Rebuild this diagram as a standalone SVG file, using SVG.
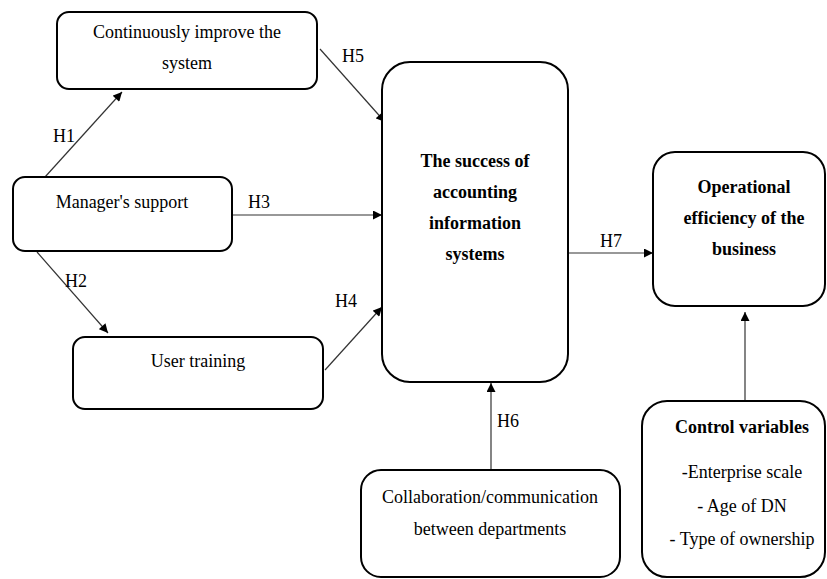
<svg xmlns="http://www.w3.org/2000/svg" width="827" height="579" viewBox="0 0 827 579">
<style>
.box{fill:#fff;stroke:#000;stroke-width:2}
.t{font-family:"Liberation Serif","Times New Roman",serif;font-size:18px;fill:#000;text-anchor:middle}
.b{font-weight:bold}
.lbl{font-family:"Liberation Serif","Times New Roman",serif;font-size:18px;fill:#000}
.c{stroke:#333;stroke-width:1.2;fill:none;marker-end:url(#ah)}
</style>
<defs>
<marker id="ah" viewBox="0 0 10 10" refX="10" refY="5" markerWidth="10" markerHeight="9" markerUnits="userSpaceOnUse" orient="auto">
<path d="M0,0 L10,5 L0,10 z" fill="#000"/>
</marker>
</defs>
<rect width="827" height="579" fill="#fff"/>
<g id="connectors">
<line class="c" x1="45" y1="177" x2="122" y2="92"/>
<line class="c" x1="320" y1="49" x2="385" y2="122"/>
<line class="c" x1="232" y1="215" x2="382" y2="215"/>
<line class="c" x1="37" y1="252" x2="108" y2="333"/>
<line class="c" x1="325" y1="370" x2="382" y2="307"/>
<line class="c" x1="568" y1="253" x2="653" y2="253"/>
<line class="c" x1="491" y1="470" x2="491" y2="383"/>
<line class="c" x1="745" y1="401" x2="745" y2="312"/>
<text class="lbl" x="53" y="142">H1</text>
<text class="lbl" x="65" y="287">H2</text>
<text class="lbl" x="248" y="208">H3</text>
<text class="lbl" x="335" y="307">H4</text>
<text class="lbl" x="342" y="62">H5</text>
<text class="lbl" x="497" y="427">H6</text>
<text class="lbl" x="600" y="247">H7</text>
</g>
<g id="improve">
<rect class="box" x="57" y="12" width="260" height="77" rx="12"/>
<text class="t" x="187" y="38">Continuously improve the</text>
<text class="t" x="187" y="69">system</text>
</g>
<g id="manager">
<rect class="box" x="13" y="177" width="219" height="74" rx="12"/>
<text class="t" x="122" y="208">Manager's support</text>
</g>
<g id="training">
<rect class="box" x="73" y="337" width="250" height="72" rx="12"/>
<text class="t" x="198" y="367">User training</text>
</g>
<g id="success">
<rect class="box" x="382" y="62" width="186" height="320" rx="28"/>
<text class="t b" x="475" y="167">The success of</text>
<text class="t b" x="475" y="198">accounting</text>
<text class="t b" x="475" y="229">information</text>
<text class="t b" x="475" y="260">systems</text>
</g>
<g id="operational">
<rect class="box" x="653" y="152" width="172" height="154" rx="22"/>
<text class="t b" x="744" y="193">Operational</text>
<text class="t b" x="744" y="224">efficiency of the</text>
<text class="t b" x="744" y="255">business</text>
</g>
<g id="collaboration">
<rect class="box" x="361" y="470" width="259" height="107" rx="20"/>
<text class="t" x="490" y="503">Collaboration/communication</text>
<text class="t" x="490" y="535">between departments</text>
</g>
<g id="control">
<rect class="box" x="642" y="401" width="183" height="176" rx="25"/>
<text class="t b" x="742" y="433">Control variables</text>
<text class="t" x="742" y="478">-Enterprise scale</text>
<text class="t" x="742" y="512">- Age of DN</text>
<text class="t" x="742" y="545">- Type of ownership</text>
</g>
</svg>
